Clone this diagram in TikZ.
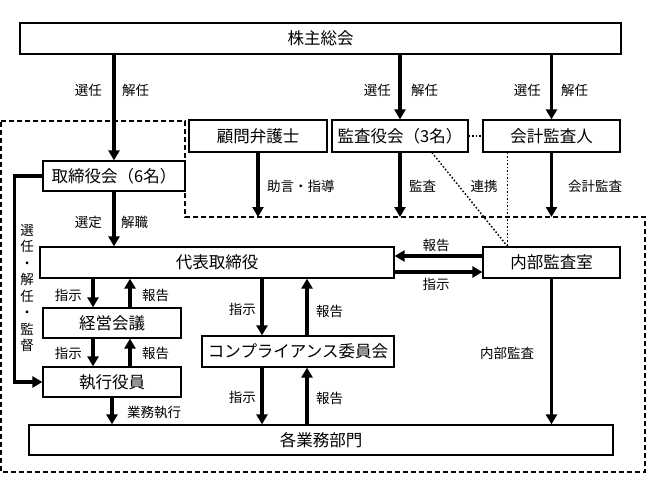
\documentclass[tikz,border=0pt]{standalone}
\usepackage{fontspec}
\setmainfont{Noto Sans CJK JP}
\usetikzlibrary{arrows.meta}

\begin{document}
\begin{tikzpicture}[x = 1pt, y = -1pt, > = {Triangle[length = 10pt, width = 11pt]},
	box/.style = {draw, line width = 1.2pt, inner sep = 0pt, minimum height = 31pt, font = \fontsize{16.5}{18}\selectfont},
	tag/.style = {inner sep = 0pt, font = \fontsize{13.5}{15}\selectfont},
	arr/.style = {->, line width = 3.5pt},
	area/.style = {line width = 1.4pt, dash pattern = on 5pt off 3pt},
	dots/.style = {line width = 1.5pt, dotted}]

	\useasboundingbox (0, 0) rectangle (646, 485);

	% Dashed area of the company
	
	\draw [area] (1, 121) -- (185, 121) -- (185, 217) -- (645, 217) -- (645, 472) -- (1, 472) -- cycle;
	\coordinate (rim) at (0, 217);

	% Boxes
	
	\node [box, minimum width = 601pt] (soukai) at (320.5, 38.5) {株主総会};
	\node [box, minimum width = 138pt, minimum height = 32pt] (komon) at (258, 136) {顧問弁護士};
	\node [box, minimum width = 136pt, minimum height = 32pt] (kansa) at (400, 136) {監査役会（3名）};
	\node [box, minimum width = 137pt, minimum height = 32pt] (kaikei) at (551.5, 136) {会計監査人};
	\node [box, minimum width = 142pt, minimum height = 30pt] (torishimari) at (114, 176) {取締役会（6名）};
	\node [box, minimum width = 354pt] (daihyo) at (217, 262.5) {代表取締役};
	\node [box, minimum width = 137pt] (naibu) at (551.5, 262.5) {内部監査室};
	\node [box, minimum width = 138pt, minimum height = 30pt] (keiei) at (112, 323) {経営会議};
	\node [box, minimum width = 138pt, minimum height = 30pt] (shikko) at (112, 382) {執行役員};
	\node [box, minimum width = 192pt] (compl) at (298, 351.5) {コンプライアンス委員会};
	\node [box, minimum width = 584pt, minimum height = 30pt] (bumon) at (321, 440) {各業務部門};

	% Shareholders elect and dismiss
	
	\draw [arr] (soukai.south -| torishimari.north) -- (torishimari.north);
	\draw [arr] (soukai.south -| kansa.north) -- (kansa.north);
	\draw [arr] (soukai.south -| kaikei.north) -- (kaikei.north);
	\foreach \x/\n in {113/a, 402/b, 552/c} {
		\node [tag, anchor = east] (sen\n) at (\x - 11, 90) {選任};
		\node [tag, anchor = west] (kai\n) at (\x + 9, 90) {解任};
	}

	% Advice and audits from outside
	
	\draw [arr] (komon.south) -- (komon.south |- rim);
	\draw [arr] (kansa.south) -- (kansa.south |- rim);
	\draw [arr] (kaikei.south) -- (kaikei.south |- rim);
	\node [tag, anchor = west] (jogen) at (267, 186) {助言・指導};
	\node [tag, anchor = west] (kansatag) at (409, 186) {監査};
	\node [tag] (renkei) at (484, 186) {連携};
	\node [tag, anchor = west] (kaikeitag) at (568, 186) {会計監査};

	% Cooperation (dotted)
	
	\draw [dots] (kansa.east) -- (kaikei.west);
	\draw [dots] ([xshift = 32pt]kansa.south) -- ([xshift = -44pt]naibu.north);
	\draw [dots] ([xshift = -44pt]kaikei.south) -- ([xshift = -44pt]naibu.north);

	% Board of directors
	
	\draw [arr] (torishimari.south) -- (torishimari.south |- daihyo.north);
	\node [tag, anchor = east] (sentei) at (102, 222) {選定};
	\node [tag, anchor = west] (kaishoku) at (121, 222) {解職};
	\draw [arr] (torishimari.west) -- ++(-28, 0) |- (shikko.west);
	\node [tag, align = center, font = \fontsize{13.5}{16.5}\selectfont] (kantoku) at (27, 288) {選\\任\\・\\解\\任\\・\\監\\督};

	% Internal audit office
	
	\draw [arr] ([yshift = 6.5pt]naibu.west) -- ([yshift = 6.5pt]naibu.west -| daihyo.east);
	\draw [arr] ([yshift = -9.5pt]daihyo.east) -- ([yshift = -9.5pt]daihyo.east -| naibu.west);
	\node [tag] (hokokuN) at (436, 245) {報告};
	\node [tag] (shijiN) at (436, 284) {指示};
	\draw [arr] (naibu.south) -- (naibu.south |- bumon.north);
	\node [tag, anchor = west] (naibukansa) at (480, 353) {内部監査};

	% Management meeting and executive officers
	
	\foreach \top/\bot/\y in {daihyo/keiei/295, keiei/shikko/353} {
		\draw [arr] ([xshift = -19pt]\bot.north |- \top.south) -- ([xshift = -19pt]\bot.north);
		\draw [arr] ([xshift = 18pt]\bot.north) -- ([xshift = 18pt]\bot.north |- \top.south);
		\node [tag, anchor = east] (shiji\bot) at (82, \y) {指示};
		\node [tag, anchor = west] (hokoku\bot) at (142, \y) {報告};
	}
	\draw [arr] (shikko.south) -- (shikko.south |- bumon.north);
	\node [tag, anchor = west] (gyomu) at (127, 412) {業務執行};

	% Compliance committee
	
	\draw [arr] ([xshift = -36pt]compl.north |- daihyo.south) -- ([xshift = -36pt]compl.north);
	\draw [arr] ([xshift = 9pt]compl.north) -- ([xshift = 9pt]compl.north |- daihyo.south);
	\draw [arr] ([xshift = -36pt]compl.south) -- ([xshift = -36pt]compl.south |- bumon.north);
	\draw [arr] ([xshift = 9pt]compl.south |- bumon.north) -- ([xshift = 9pt]compl.south);
	\node [tag, anchor = east] (shijiC) at (256, 309) {指示};
	\node [tag, anchor = west] (hokokuC) at (316, 311) {報告};
	\node [tag, anchor = east] (shijiD) at (256, 397) {指示};
	\node [tag, anchor = west] (hokokuD) at (316, 398) {報告};
	
\end{tikzpicture}
\end{document}
